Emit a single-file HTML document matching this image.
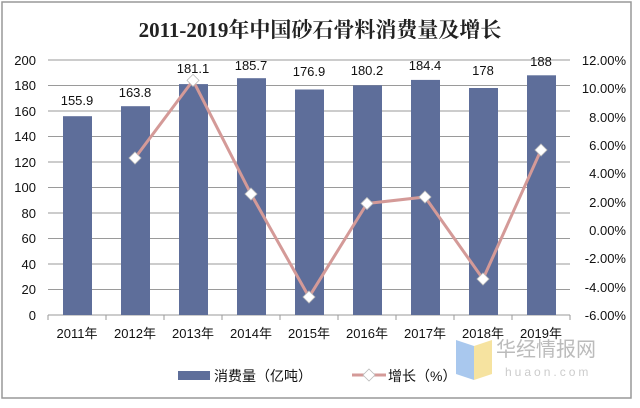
<!DOCTYPE html><html><head><meta charset="utf-8"><style>body{margin:0;background:#fff}svg text{font-family:"Liberation Sans","Noto Sans CJK SC",sans-serif}</style></head><body>
<svg width="640" height="403" viewBox="0 0 640 403">
<rect x="2" y="2" width="629" height="396" fill="#fff" stroke="#999" stroke-width="1.5"/>
<text x="320" y="37" text-anchor="middle" font-size="21" font-weight="bold" style="font-family:'Liberation Serif','Noto Serif CJK SC',serif" fill="#222">2011-2019年中国砂石骨料消费量及增长</text>
<g stroke="#9a9a9a" stroke-width="1">
<line x1="48" x2="570" y1="60" y2="60"/><line x1="48" x2="570" y1="85.5" y2="85.5"/><line x1="48" x2="570" y1="111" y2="111"/><line x1="48" x2="570" y1="136.5" y2="136.5"/><line x1="48" x2="570" y1="162" y2="162"/><line x1="48" x2="570" y1="187.5" y2="187.5"/><line x1="48" x2="570" y1="213" y2="213"/><line x1="48" x2="570" y1="238.5" y2="238.5"/><line x1="48" x2="570" y1="264" y2="264"/><line x1="48" x2="570" y1="289.5" y2="289.5"/><line x1="48" x2="570" y1="315" y2="315"/>
<line x1="48" x2="48" y1="315" y2="320"/><line x1="106" x2="106" y1="315" y2="320"/><line x1="164" x2="164" y1="315" y2="320"/><line x1="222" x2="222" y1="315" y2="320"/><line x1="280" x2="280" y1="315" y2="320"/><line x1="338" x2="338" y1="315" y2="320"/><line x1="396" x2="396" y1="315" y2="320"/><line x1="454" x2="454" y1="315" y2="320"/><line x1="512" x2="512" y1="315" y2="320"/><line x1="570" x2="570" y1="315" y2="320"/>
</g>
<g fill="#5e6e9a">
<rect x="63" y="116.2" width="29" height="198.8"/><rect x="121" y="106.2" width="29" height="208.8"/><rect x="179" y="84.1" width="29" height="230.9"/><rect x="237" y="78.2" width="29" height="236.8"/><rect x="295" y="89.5" width="29" height="225.5"/><rect x="353" y="85.3" width="29" height="229.7"/><rect x="411" y="79.9" width="29" height="235.1"/><rect x="469" y="88" width="29" height="227"/><rect x="527" y="75.3" width="29" height="239.7"/>
</g>
<g font-size="13" fill="#111" text-anchor="middle">
<text x="77" y="105">155.9</text><text x="135" y="97">163.8</text><text x="193" y="73">181.1</text><text x="251" y="70">185.7</text><text x="309" y="76">176.9</text><text x="367" y="75">180.2</text><text x="425" y="70">184.4</text><text x="483" y="75">178</text><text x="541" y="66">188</text>
</g>
<polyline points="135,158 193,80.4 251,194 309,297 367,203.5 425,197 483,279 541,150" fill="none" stroke="#d49a98" stroke-width="3"/>
<g fill="#fff" stroke="#bbb" stroke-width="0.8">
<path d="M135 152l6 6-6 6-6-6z"/><path d="M193 74.4l6 6-6 6-6-6z"/><path d="M251 188l6 6-6 6-6-6z"/><path d="M309 291l6 6-6 6-6-6z"/><path d="M367 197.5l6 6-6 6-6-6z"/><path d="M425 191l6 6-6 6-6-6z"/><path d="M483 273l6 6-6 6-6-6z"/><path d="M541 144l6 6-6 6-6-6z"/>
</g>
<g font-size="13" fill="#111" text-anchor="end">
<text x="36" y="65">200</text><text x="36" y="90">180</text><text x="36" y="116">160</text><text x="36" y="141">140</text><text x="36" y="167">120</text><text x="36" y="192">100</text><text x="36" y="218">80</text><text x="36" y="243">60</text><text x="36" y="269">40</text><text x="36" y="294">20</text><text x="36" y="320">0</text>
</g>
<g font-size="13" fill="#111" text-anchor="end">
<text x="626" y="65">12.00%</text><text x="626" y="93">10.00%</text><text x="626" y="122">8.00%</text><text x="626" y="150">6.00%</text><text x="626" y="178">4.00%</text><text x="626" y="207">2.00%</text><text x="626" y="235">0.00%</text><text x="626" y="263">-2.00%</text><text x="626" y="292">-4.00%</text><text x="626" y="320">-6.00%</text>
</g>
<g font-size="13" fill="#111" text-anchor="middle">
<text x="77" y="338">2011年</text><text x="135" y="338">2012年</text><text x="193" y="338">2013年</text><text x="251" y="338">2014年</text><text x="309" y="338">2015年</text><text x="367" y="338">2016年</text><text x="425" y="338">2017年</text><text x="483" y="338">2018年</text><text x="541" y="338">2019年</text>
</g>
<path d="M456 340l18 6v34l-18-6z" fill="#a9c8ee"/><path d="M474 346l18-6v34l-18 6z" fill="#f6e3a0"/>
<text x="496" y="356" font-size="20" fill="#bbb">华经情报网</text>
<text x="505" y="376" font-size="12" fill="#ccc" letter-spacing="3">huaon.com</text>
<rect x="178" y="371" width="32" height="9" fill="#5e6e9a"/>
<text x="214" y="381" font-size="14" fill="#111">消费量（亿吨）</text>
<line x1="352" x2="386" y1="375" y2="375" stroke="#d49a98" stroke-width="3"/>
<path d="M369 369l6 6-6 6-6-6z" fill="#fff" stroke="#bbb" stroke-width="0.8"/>
<text x="388" y="381" font-size="14" fill="#111">增长（%）</text>
</svg></body></html>
